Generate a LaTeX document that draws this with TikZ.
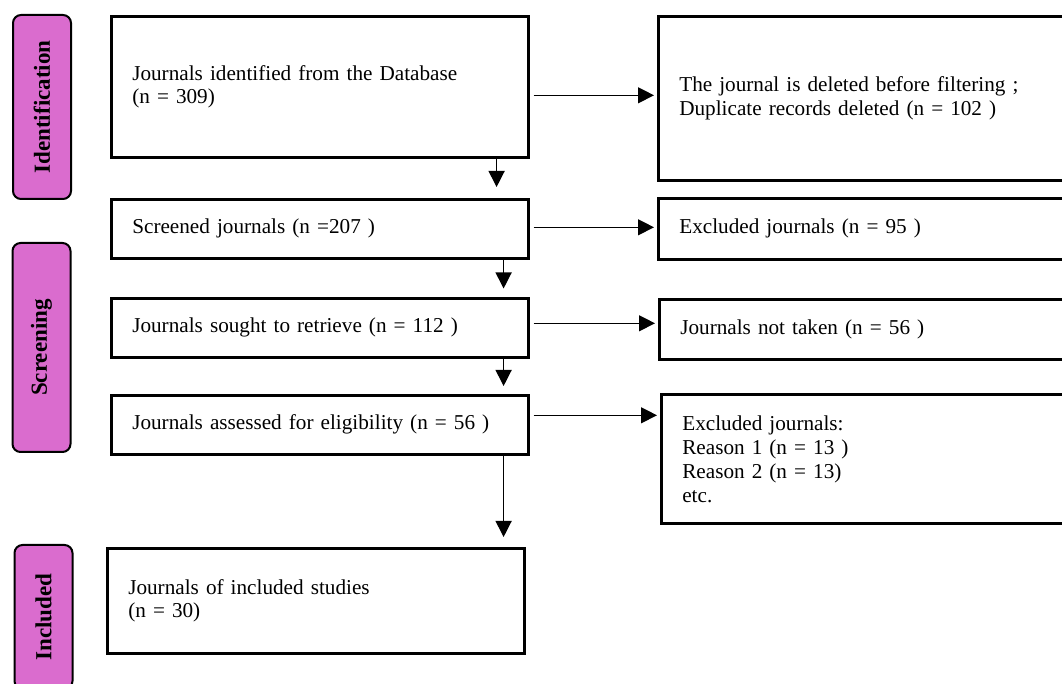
\documentclass[tikz,border=0pt]{standalone}
\usepackage{fontspec}
\setmainfont{Liberation Serif}
\usetikzlibrary{arrows.meta, positioning}

\definecolor{stagepink}{RGB}{218,108,206}

\begin{document}
\begin{tikzpicture}[
    x=0.5pt,
    y=-0.5pt,
    box/.style={
        draw,
        line width=1.3pt,
        fill=white,
        anchor=north west,
        align=left,
        inner xsep=10.5pt,
        font=\fontsize{10.6}{11.8}\selectfont,
    },
    stage/.style={
        draw,
        line width=1pt,
        rounded corners=4pt,
        fill=stagepink,
        rotate=90,
        minimum height=29pt,
        font=\fontsize{11.5}{12}\selectfont\bfseries,
    },
    flow/.style={
        line width=0.65pt,
        -{Triangle[length=8pt, width=8pt]},
    }
]
    \useasboundingbox (0,0) rectangle (1062,684);

    % Stages
    \node[stage, minimum width=92pt] (ident) at (42,107) {Identification};
    \node[stage, minimum width=104.5pt] (screen) at (41.5,347.5) {Screening};
    \node[stage, minimum width=72pt] (incl) at (43.5,617) {Included};

    % Main column
    \node[box, text width=187.5pt, minimum height=70.5pt] (found) at (110,15) {Journals identified from the Database\\(n = 309)};
    \node[box, text width=187.5pt, minimum height=29.5pt] (screened) at (110,198) {Screened journals (n =207 )};
    \node[box, text width=187.5pt, minimum height=29.5pt] (sought) at (110,297) {Journals sought to retrieve (n = 112 )};
    \node[box, text width=187.5pt, minimum height=29.5pt] (assessed) at (110,394) {Journals assessed for eligibility (n = 56 )};
    \node[box, text width=187.5pt, minimum height=52.5pt] (included) at (106,547) {Journals of included studies\\(n = 30)};

    % Side column
    \node[box, text width=188pt, minimum height=82pt] (removed) at (657,15) {The journal is deleted before filtering ;\\Duplicate records deleted (n = 102 )};
    \node[box, text width=188pt, minimum height=30.5pt] (excluded) at (657,197) {Excluded journals (n = 95 )};
    \node[box, text width=188pt, minimum height=30pt] (nottaken) at (658,298) {Journals not taken (n = 56 )};
    \node[box, text width=188pt, minimum height=64.5pt, font=\fontsize{10.6}{12}\selectfont] (reasons) at (660,393) {Excluded journals:\\Reason 1 (n = 13 )\\Reason 2 (n = 13)\\etc.};

    % Downward flow
    \draw[flow, shorten >=5.5pt] ([xshift=-16.5pt]found.south east) -- ([xshift=-16.5pt]found.south east |- screened.north);
    \draw[flow, shorten >=4.25pt] ([xshift=-13pt]screened.south east) -- ([xshift=-13pt]screened.south east |- sought.north);
    \draw[flow, shorten >=4pt] ([xshift=-13pt]sought.south east) -- ([xshift=-13pt]sought.south east |- assessed.north);
    \draw[flow, shorten >=5pt] ([xshift=-13pt]assessed.south east) -- ([xshift=-13pt]assessed.south east |- included.north);

    % Sideways flow
    \draw[flow, shorten <=2pt, shorten >=1.5pt] ([yshift=-4.25pt]found.east) -- ([yshift=-4.25pt]found.east -| removed.west);
    \draw[flow, shorten <=2pt, shorten >=1.5pt] ([yshift=0.75pt]screened.east) -- ([yshift=0.75pt]screened.east -| excluded.west);
    \draw[flow, shorten <=2pt, shorten >=1.5pt] ([yshift=2.25pt]sought.east) -- ([yshift=2.25pt]sought.east -| nottaken.west);
    \draw[flow, shorten <=2pt, shorten >=1.5pt] ([yshift=4.75pt]assessed.east) -- ([yshift=4.75pt]assessed.east -| reasons.west);
\end{tikzpicture}
\end{document}
